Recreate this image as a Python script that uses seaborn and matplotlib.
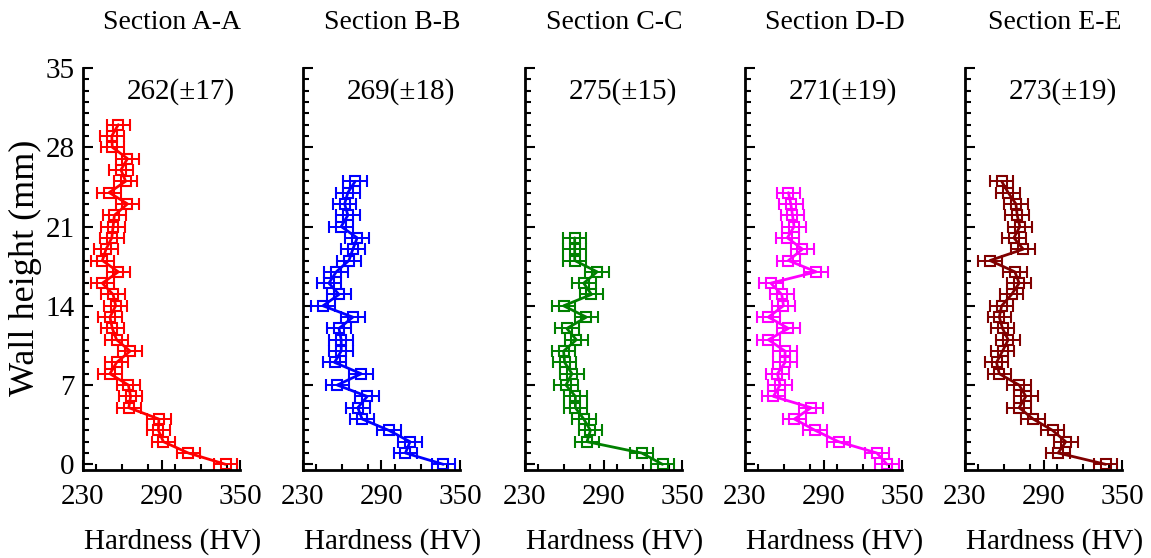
import numpy as np
import pandas as pd
import matplotlib
matplotlib.use("Agg")
import matplotlib.pyplot as plt
import seaborn as sns
from matplotlib.ticker import MultipleLocator

# ---------------- data ----------------
sections = ["Section A-A", "Section B-B", "Section C-C", "Section D-D", "Section E-E"]
summaries = ["262(\u00b117)", "269(\u00b118)", "275(\u00b115)", "271(\u00b119)", "273(\u00b119)"]
colors = ["#FF0000", "#0000FF", "#008000", "#FF00FF", "#800000"]

height_A = [0, 1, 2, 3, 4, 5, 6, 7, 8, 9, 10, 11, 12, 13, 14, 15, 16, 17, 18, 19, 20,
            21, 22, 23, 24, 25, 26, 27, 28, 29, 30]
hv_A = [339, 310.5, 291.4, 287.6, 288, 265, 266.4, 264.7, 250.6, 255.7, 266, 255.7,
        252.4, 250.6, 255, 253, 244.8, 257, 244.8, 247.6, 252, 253, 254, 264, 250,
        262.6, 259, 264, 252.4, 252, 257]

height_B = [0, 1, 2, 3, 4, 5, 6, 7, 8, 9, 10, 11, 12, 13, 14, 15, 16, 17, 18, 19, 20,
            21, 22, 23, 24, 25]
hv_B = [337.3, 308.3, 311.8, 295.6, 275.2, 271.9, 279.1, 256.2, 274.5, 254.1, 259.2,
        259.2, 257.5, 268.1, 245.3, 257.5, 249.8, 255.4, 265.1, 268.1, 271.4, 259.2,
        264.3, 261.8, 264.3, 269.9]

height_C = [0, 1, 2, 3, 4, 5, 6, 7, 8, 9, 10, 11, 12, 13, 14, 15, 16, 17, 18, 19, 20]
hv_C = [335.1, 319.2, 277.4, 280, 274.9, 268.5, 268.5, 261.3, 265.9, 260.3, 259.5,
        269.2, 262, 276.9, 259.5, 280.8, 274.9, 285.1, 268, 268, 268]

height_D = [0, 1, 2, 3, 4, 5, 6, 7, 8, 9, 10, 11, 12, 13, 14, 15, 16, 17, 18, 19, 20,
            21, 22, 23, 24]
hv_D = [338.5, 330.8, 301.5, 283.6, 267.8, 280.5, 251.7, 256.8, 254.8, 260.6, 260.6,
        247.9, 263.2, 247.9, 259.4, 258.1, 249.7, 284.4, 263.2, 273.9, 262.4, 267.5,
        266.3, 265, 263.2]

height_E = [0, 1, 2, 3, 4, 5, 6, 7, 8, 9, 10, 11, 12, 13, 14, 15, 16, 17, 18, 19, 20,
            21, 22, 23, 24, 25]
hv_E = [337.5, 301.2, 307, 296.9, 282.1, 271.4, 276.5, 271.4, 256.2, 254.1, 258.7,
        263, 258.7, 256.2, 258, 265.6, 271.4, 268.1, 249.1, 274.5, 267.4, 271.9,
        269.9, 268.9, 263, 258]

hv_err = [9, 9, 9, 9, 9]  # half-width of the horizontal error bars (HV)

heights = [height_A, height_B, height_C, height_D, height_E]
hvs = [hv_A, hv_B, hv_C, hv_D, hv_E]

x_ticks = [230, 290, 350]
y_ticks = [0, 7, 14, 21, 28, 35]

# ---------------- style ----------------
sns.set_theme(style="ticks")
plt.rcParams["font.family"] = ["Liberation Serif", "DejaVu Serif"]
plt.rcParams["axes.linewidth"] = 2.0
plt.rcParams["text.color"] = "black"
plt.rcParams["axes.labelcolor"] = "black"
plt.rcParams["xtick.color"] = "black"
plt.rcParams["ytick.color"] = "black"
plt.rcParams["axes.edgecolor"] = "black"

W, H = 1151, 558
fig = plt.figure(figsize=(W / 100, H / 100), dpi=100)
lefts_px = [83, 303, 525, 745, 965]
ax_w_px, ax_bottom_px, ax_top_px = 157, 470, 68

for i in range(5):
    ax = fig.add_axes([lefts_px[i] / W, 1 - ax_bottom_px / H,
                       ax_w_px / W, (ax_bottom_px - ax_top_px) / H])
    df = pd.DataFrame({"hv": hvs[i], "h": heights[i]})
    c = colors[i]
    sns.lineplot(data=df, x="hv", y="h", orient="y", sort=False, estimator=None,
                 color=c, linewidth=2.0, ax=ax, legend=False)
    ax.errorbar(df["hv"], df["h"], xerr=hv_err[i], fmt="s", mfc="none", mec=c,
                ms=7, mew=1.5, ecolor=c, elinewidth=1.4, capsize=4.5, capthick=1.4)

    ax.set_xlim(230, 350)
    ax.set_ylim(-0.5, 35)
    ax.set_xticks(x_ticks)
    ax.xaxis.set_minor_locator(MultipleLocator(20))
    ax.set_yticks(y_ticks)
    ax.yaxis.set_minor_locator(MultipleLocator(1))
    for s in ["top", "right"]:
        ax.spines[s].set_visible(False)
    ax.tick_params(which="both", direction="in", width=1.5, colors="black",
                   labelsize=21)
    ax.tick_params(which="major", length=7)
    ax.tick_params(which="minor", length=4)
    ax.tick_params(axis="x", pad=10)
    ax.tick_params(axis="y", pad=6)
    ax.set_xlabel("")
    ax.set_ylabel("")
    if i > 0:
        ax.tick_params(labelleft=False)

    ax.text(0.57, 1.114, sections[i], transform=ax.transAxes, ha="center",
            va="center", fontsize=20)
    ax.text(305, 32.9, summaries[i], ha="center", va="center", fontsize=21)
    ax.text(0.57, -0.177, "Hardness (HV)", transform=ax.transAxes, ha="center",
            va="center", fontsize=21)

fig.text(25 / W, 1 - 268 / H, "Wall height (mm)", rotation=90, ha="center",
         va="center", fontsize=26)

fig.savefig("out.png", dpi=100)
